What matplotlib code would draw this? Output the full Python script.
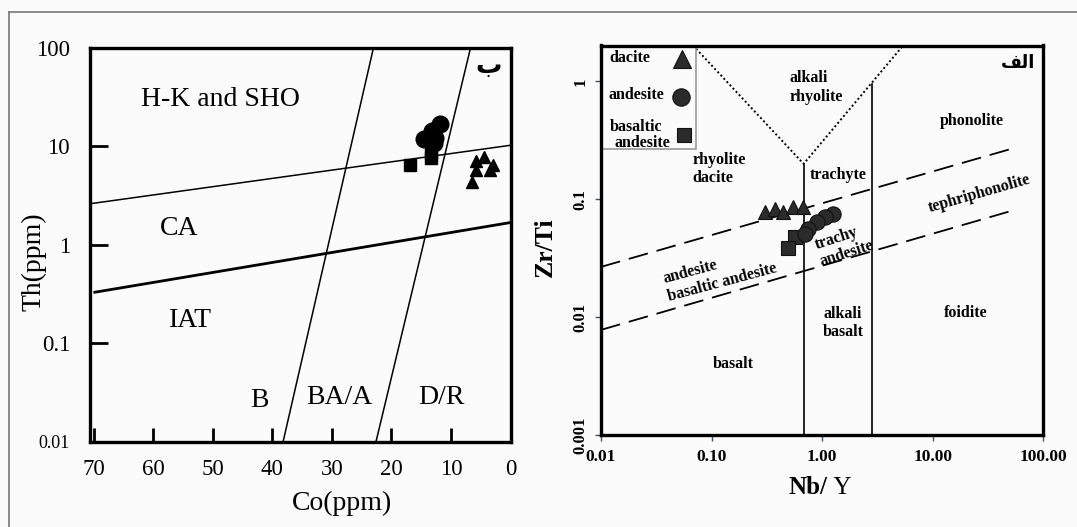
import matplotlib
matplotlib.use("Agg")
import matplotlib.pyplot as plt
from matplotlib.lines import Line2D
from matplotlib.patches import Rectangle
from matplotlib.ticker import FixedLocator, NullLocator

plt.rcParams['font.family'] = ['Liberation Serif', 'DejaVu Sans']

# ---- left panel data (Co vs Th)
co_dacite = [4.5, 5.8, 2.9, 5.8, 3.4, 6.5]
th_dacite = [7.8, 7.0, 6.4, 5.7, 5.7, 4.3]
co_andesite = [11.8, 13.2, 14.6, 12.9, 12.6]
th_andesite = [16.6, 14.2, 11.7, 10.8, 12.2]
co_basand = [16.8, 13.3, 13.3]
th_basand = [6.4, 7.5, 8.6]

# boundaries
ca_hk_co, ca_hk_th = [70.7, 0], [2.6, 10.2]
iat_ca_co, iat_ca_th = [69.8, 0], [0.33, 1.68]
b_ba_co, b_ba_th = [38.2, 23.0], [0.01, 100]
ba_dr_co, ba_dr_th = [22.6, 6.7], [0.01, 100]

left_yticks = [100, 10, 1, 0.1, 0.01]
left_ylabels = ['100', '10', '1', '0.1', '0.01']
left_xticks = [70, 60, 50, 40, 30, 20, 10, 0]

# ---- right panel data (Nb/Y vs Zr/Ti)
nby_dacite = [0.304, 0.374, 0.445, 0.548, 0.675]
zrti_dacite = [0.078, 0.083, 0.078, 0.086, 0.086]
nby_andesite = [1.26, 1.06, 0.89, 0.75, 0.70]
zrti_andesite = [0.0756, 0.0708, 0.064, 0.0565, 0.051]
nby_basand = [0.568, 0.494]
zrti_basand = [0.048, 0.039]

dot_nby, dot_zrti = [0.068, 0.68, 5.4], [2.02, 0.20, 2.02]
v1_nby, v1_zrti = [0.68, 0.68], [0.20, 0.001]
v2_nby, v2_zrti = [2.8, 2.8], [0.95, 0.001]
dash1_nby, dash1_zrti = [0.01, 52], [0.0267, 0.269]
dash2_nby, dash2_zrti = [0.01, 52], [0.0078, 0.080]

right_xticks = [0.01, 0.1, 1, 10, 100]
right_xlabels = ['0.01', '0.10', '1.00', '10.00', '100.00']
right_yticks = [1, 0.1, 0.01, 0.001]
right_ylabels = ['1', '0.1', '0.01', '0.001']

bg = '#fbfbfb'
fig = plt.figure(figsize=(10.77, 5.27), dpi=100, facecolor=bg)

# page frame (top and left edges visible)
fig.add_artist(Line2D([9/1077, 9/1077], [0, 1-12/527], color='#777777', lw=1.2, transform=fig.transFigure))
fig.add_artist(Line2D([9/1077, 1], [1-12/527, 1-12/527], color='#777777', lw=1.2, transform=fig.transFigure))

# ================= left panel
ax1 = fig.add_axes([89.5/1077, 85/527, 421/1077, 394.5/527])
ax1.set_facecolor(bg)
ax1.set_yscale('log')
ax1.set_xlim(70.7, 0)
ax1.set_ylim(0.01, 100)

ax1.plot(ca_hk_co, ca_hk_th, color='black', lw=1.1)
ax1.plot(iat_ca_co, iat_ca_th, color='black', lw=2.0)
ax1.plot(b_ba_co, b_ba_th, color='black', lw=1.1)
ax1.plot(ba_dr_co, ba_dr_th, color='black', lw=1.1)

ax1.plot(co_andesite, th_andesite, 'o', color='black', ms=12, zorder=3)
ax1.plot(co_basand, th_basand, 's', color='black', ms=9, zorder=3)
ax1.plot(co_dacite, th_dacite, '^', color='black', ms=8.5, zorder=3)

for s in ax1.spines.values():
    s.set_linewidth(2.4)
ax1.yaxis.set_major_locator(FixedLocator(left_yticks))
ax1.yaxis.set_minor_locator(NullLocator())
ax1.set_yticklabels(left_ylabels)
ax1.set_xticks(left_xticks)
ax1.tick_params(axis='y', direction='in', length=13, width=2, labelsize=16.5, pad=14)
ax1.tick_params(axis='x', direction='in', length=10, width=2, labelsize=16.5, pad=12)
ax1.get_yticklabels()[-1].set_fontsize(13)

ax1.set_xlabel('Co(ppm)', fontsize=20, labelpad=6)
ax1.xaxis.set_label_coords(0.6, -0.125)
ax1.set_ylabel('Th(ppm)', fontsize=20)
ax1.yaxis.set_label_coords(-0.103, 0.456)

lt = dict(transform=ax1.transAxes, fontsize=20, ha='center', va='center')
ax1.text(0.311, 0.867, 'H-K and SHO', **lt)
ax1.text(0.214, 0.542, 'CA', **lt)
ax1.text(0.239, 0.309, 'IAT', **lt)
ax1.text(0.403, 0.106, 'B', **lt)
ax1.text(0.594, 0.114, 'BA/A', **lt)
ax1.text(0.836, 0.114, 'D/R', **lt)
ax1.text(0.949, 0.952, '\u0628', transform=ax1.transAxes, fontsize=19, fontweight='bold',
         ha='center', va='center', family='DejaVu Sans')

# ================= right panel
ax2 = fig.add_axes([601/1077, 92/527, 442.3/1077, 389.5/527])
ax2.set_facecolor(bg)
ax2.set_xscale('log')
ax2.set_yscale('log')
ax2.set_xlim(0.01, 100)
ax2.set_ylim(0.001, 2.02)

ax2.plot(dot_nby, dot_zrti, color='black', lw=1.4, ls=(0, (1, 1.3)))
ax2.plot(v1_nby, v1_zrti, color='black', lw=1.2)
ax2.plot(v2_nby, v2_zrti, color='black', lw=1.2)
ax2.plot(dash1_nby, dash1_zrti, color='black', lw=1.3, ls=(0, (11, 5)))
ax2.plot(dash2_nby, dash2_zrti, color='black', lw=1.3, ls=(0, (11, 5)))

mk = dict(color='#2b2b2b', mec='#111111', mew=0.8, ls='none')
ax2.plot(nby_basand, zrti_basand, 's', ms=10, zorder=3, **mk)
ax2.plot(nby_andesite, zrti_andesite, 'o', ms=11, zorder=3, **mk)
ax2.plot(nby_dacite, zrti_dacite, '^', ms=10, zorder=3, **mk)

# legend box: label text on the left, symbol on the right
ax2.add_patch(Rectangle((0, 0.733), 0.215, 0.267, transform=ax2.transAxes, facecolor=bg,
                        edgecolor='#999999', lw=1.2, zorder=4))
lg = dict(transform=ax2.transAxes, fontsize=11.5, fontweight='bold', ha='left', va='center', zorder=5)
ax2.text(0.02, 0.969, 'dacite', **lg)
ax2.text(0.016, 0.874, 'andesite', **lg)
ax2.text(0.02, 0.792, 'basaltic', **lg)
ax2.text(0.031, 0.749, 'andesite', **lg)
for mx, my, m, size in [(0.183, 0.965, '^', 13), (0.181, 0.869, 'o', 12.5), (0.188, 0.769, 's', 10.5)]:
    ax2.add_artist(Line2D([mx], [my], marker=m, ms=size, transform=ax2.transAxes, zorder=5, **mk))

for s in ax2.spines.values():
    s.set_linewidth(2.4)
    s.set_zorder(6)
ax2.xaxis.set_major_locator(FixedLocator(right_xticks))
ax2.xaxis.set_minor_locator(NullLocator())
ax2.set_xticklabels(right_xlabels)
ax2.yaxis.set_major_locator(FixedLocator(right_yticks))
ax2.yaxis.set_minor_locator(NullLocator())
ax2.set_yticklabels(right_ylabels, rotation=90, va='center')
ax2.tick_params(direction='out', length=4, width=1, color='#445566', labelsize=12.5)
for t in ax2.get_xticklabels() + ax2.get_yticklabels():
    t.set_fontweight('bold')
ax2.tick_params(axis='y', labelsize=12, pad=5)
ax2.tick_params(axis='x', pad=6)

ax2.text(0.513, -0.136, 'Nb/', transform=ax2.transAxes, fontsize=18, fontweight='bold',
         ha='right', va='center')
ax2.text(0.513, -0.136, ' Y', transform=ax2.transAxes, fontsize=18, ha='left', va='center')
ax2.set_ylabel('Zr/Ti', fontsize=18.5, fontweight='bold')
ax2.yaxis.set_label_coords(-0.1, 0.482)

rt = dict(transform=ax2.transAxes, fontsize=11.5, fontweight='bold', va='center')
ax2.text(0.427, 0.892, 'alkali\nrhyolite', ha='left', **rt)
ax2.text(0.839, 0.805, 'phonolite', ha='center', **rt)
ax2.text(0.207, 0.683, 'rhyolite\ndacite', ha='left', **rt)
ax2.text(0.471, 0.667, 'trachyte', ha='left', **rt)
ax2.text(0.855, 0.62, 'tephriphonolite', ha='center', rotation=16, rotation_mode='anchor', **rt)
ax2.text(0.55, 0.487, 'trachy\nandesite', ha='center', ma='left', rotation=18, rotation_mode='anchor', **rt)
ax2.text(0.269, 0.415, 'andesite\nbasaltic andesite', ha='center', ma='left', rotation=15,
         rotation_mode='anchor', **rt)
ax2.text(0.502, 0.287, 'alkali\nbasalt', ha='left', **rt)
ax2.text(0.825, 0.313, 'foidite', ha='center', **rt)
ax2.text(0.30, 0.182, 'basalt', ha='center', **rt)
ax2.text(0.942, 0.956, '\ufed2\ufedf\ufe8d', transform=ax2.transAxes, fontsize=13, fontweight='bold',
         family='DejaVu Sans', ha='center', va='center')

fig.savefig('out.png', dpi=100, facecolor=bg)
